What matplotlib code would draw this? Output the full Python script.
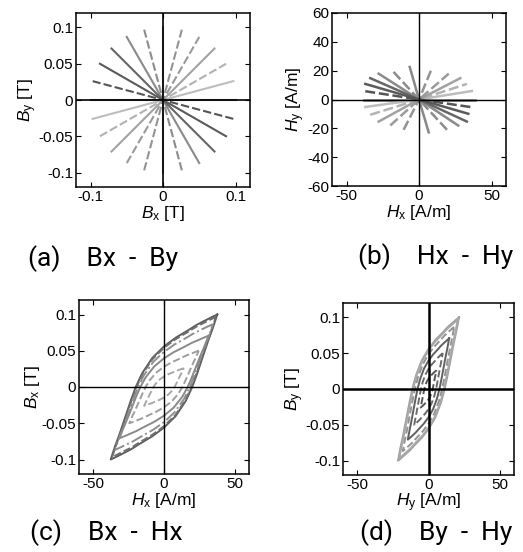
import matplotlib
matplotlib.use("Agg")
import matplotlib.pyplot as plt
import numpy as np

plt.rcParams["font.family"] = ["Liberation Sans", "DejaVu Sans"]
plt.rcParams["mathtext.fontset"] = "custom"
plt.rcParams["mathtext.rm"] = "Liberation Sans"
plt.rcParams["mathtext.it"] = "Liberation Sans:italic"

# (a) B spokes: upper end point of each direction (0..165 deg)
bx_end = [0.1, 0.097, 0.087, 0.071, 0.05, 0.026, 0.0, -0.026, -0.05, -0.071, -0.087, -0.097]
by_end = [0.0, 0.026, 0.05, 0.071, 0.087, 0.097, 0.1, 0.097, 0.087, 0.071, 0.05, 0.026]

# (b) H spokes: upper and lower end points of each direction
hx_up = [38.9, 36.5, 33.0, 28.5, 20.5, 9.0, -6.4, -19.0, -27.8, -33.6, -37.0, -38.0]
hy_up = [0.0, 5.9, 10.8, 14.8, 17.9, 21.9, 22.6, 20.7, 17.9, 14.8, 10.8, 5.9]
hx_lo = [-38.0, -37.0, -33.6, -27.8, -19.8, -10.6, 6.7, 19.3, 27.0, 33.0, 34.0, 35.4]
hy_lo = [0.0, -5.2, -10.6, -15.3, -18.0, -21.0, -22.8, -21.0, -18.0, -15.3, -9.9, -5.2]

spoke_colors = ["#6a6a6a", "#bdbdbd", "#b2b2b2", "#a2a2a2", "#9a9a9a", "#939393",
                "#888888", "#8c8c8c", "#8a8a8a", "#666666", "#5a5a5a", "#555555"]
spoke_styles = ["-", "-", "--", "-", "--", "--", "-", "--", "-", "-", "-", "--"]

# loop shape (upper branch, normalised to the tip), read from the major Bx-Hx loop
loop_h = [1.0, 0.9, 0.78, 0.62, 0.47, 0.22, 0.0, -0.22, -0.41, -0.53, -0.62, -0.72, -0.83, -0.92, -1.0]
loop_b = [1.0, 0.965, 0.92, 0.86, 0.79, 0.68, 0.56, 0.40, 0.19, 0.0, -0.18, -0.40, -0.64, -0.82, -1.0]

# (c) Bx - Hx loops: tip values
c_hm = [37.6, 36.6, 34.5, 31.5, 24.5, 14.0]
c_bm = [0.1, 0.0966, 0.0866, 0.0707, 0.05, 0.0259]
c_colors = ["#5e5e5e", "#6e6e6e", "#8e8e8e", "#8a8a8a", "#9e9e9e", "#a8a8a8"]
c_styles = ["-", "--", "-.", "-", "--", "--"]

# (d) By - Hy loops: tip values
d_hm = [21.4, 20.5, 18.0, 14.5, 10.0, 5.5]
d_bm = [0.1, 0.0966, 0.0866, 0.0707, 0.05, 0.0259]
d_colors = ["#a0a0a0", "#a8a8a8", "#939393", "#606060", "#6a6a6a", "#585858"]
d_styles = ["-", "-", "--", "-", "--", "--"]

b_ticks = [-0.1, -0.05, 0, 0.05, 0.1]
h_ticks = [-50, 0, 50]
hy_ticks = [-60, -40, -20, 0, 20, 40, 60]

W, H = 523, 552
fig = plt.figure(figsize=(W / 100, H / 100), dpi=100)


def make_ax(l, t, r, b):
    ax = fig.add_axes([l / W, 1 - b / H, (r - l) / W, (b - t) / H])
    ax.tick_params(direction="in", top=True, right=True, length=3.5, width=0.8,
                   labelsize=11, pad=2)
    for s in ax.spines.values():
        s.set_linewidth(1.1)
    return ax


def set_ticks(ax, xt, yt):
    ax.set_xticks(xt)
    ax.set_xticklabels(["%g" % v for v in xt])
    ax.set_yticks(yt)
    ax.set_yticklabels(["%g" % v for v in yt])


def axes_cross(ax, lw=1.0):
    ax.axhline(0, color="black", lw=lw, zorder=5)
    ax.axvline(0, color="black", lw=lw, zorder=5)


def labels(ax, xl, yl):
    ax.set_xlabel(xl, fontsize=12.5, labelpad=0)
    ax.set_ylabel(yl, fontsize=12.5, labelpad=0)


def dash(st):
    return (4, 1.5) if st == "--" else (None, None)


# (a)
ax = make_ax(76, 13, 250, 187)
for i in range(len(bx_end)):
    ax.plot([-bx_end[i], bx_end[i]], [-by_end[i], by_end[i]], color=spoke_colors[i],
            ls=spoke_styles[i], lw=1.5, dashes=dash(spoke_styles[i]))
axes_cross(ax, 1.2)
ax.set_xlim(-0.12, 0.12)
ax.set_ylim(-0.12, 0.12)
set_ticks(ax, [-0.1, 0, 0.1], b_ticks)
labels(ax, r"$B_{\rm x}$ [T]", r"$B_{\rm y}$ [T]")

# (b)
ax = make_ax(332, 13, 506, 186)
for i in range(len(hx_up)):
    ax.plot([hx_lo[i], 0, hx_up[i]], [hy_lo[i], 0, hy_up[i]], color=spoke_colors[i],
            ls=spoke_styles[i], lw=1.8, dashes=dash(spoke_styles[i]))
axes_cross(ax, 1.0)
ax.set_xlim(-60, 60)
ax.set_ylim(-60, 60)
set_ticks(ax, h_ticks, hy_ticks)
labels(ax, r"$H_{\rm x}$ [A/m]", r"$H_{\rm y}$ [A/m]")

lh = np.array(loop_h)
lb = np.array(loop_b)

# (c)
ax = make_ax(79, 300, 249, 474)
for i in range(len(c_hm)):
    hh = np.concatenate([lh, -lh]) * c_hm[i]
    bb = np.concatenate([lb, -lb]) * c_bm[i]
    ax.plot(hh, bb, color=c_colors[i], ls=c_styles[i], lw=1.4)
axes_cross(ax, 1.0)
ax.set_xlim(-60, 60)
ax.set_ylim(-0.12, 0.12)
set_ticks(ax, h_ticks, b_ticks)
labels(ax, r"$H_{\rm x}$ [A/m]", r"$B_{\rm x}$ [T]")

# (d)
ax = make_ax(343, 303, 514, 475)
for i in range(len(d_hm)):
    hh = np.concatenate([lh, -lh]) * d_hm[i]
    bb = np.concatenate([lb, -lb]) * d_bm[i]
    ax.plot(hh, bb, color=d_colors[i], ls=d_styles[i], lw=1.4)
axes_cross(ax, 1.8)
ax.set_xlim(-60, 60)
ax.set_ylim(-0.12, 0.12)
set_ticks(ax, h_ticks, b_ticks)
labels(ax, r"$H_{\rm y}$ [A/m]", r"$B_{\rm y}$ [T]")

# captions
cap = dict(fontsize=19, family=["Roboto", "DejaVu Sans"], va="center", ha="left")
fig.text(28 / W, 1 - 259 / H, "(a)    Bx  -  By", **cap)
fig.text(358 / W, 1 - 257 / H, "(b)    Hx  -  Hy", **cap)
fig.text(30 / W, 1 - 533 / H, "(c)    Bx  -  Hx", **cap)
fig.text(360 / W, 1 - 533 / H, "(d)    By  -  Hy", **cap)

fig.savefig("out.png", dpi=100)
